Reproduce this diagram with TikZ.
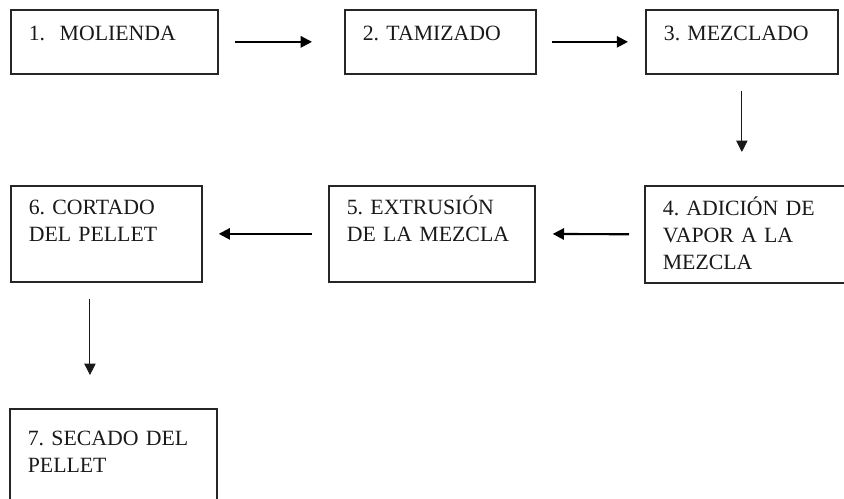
\documentclass[tikz,border=0pt]{standalone}
\usepackage{fontspec}
\setmainfont{Liberation Serif}
\usepackage{tikz}
\usetikzlibrary{arrows.meta, positioning, calc}
\frenchspacing

\begin{document}
\begin{tikzpicture}[
  x=0.025cm, y=-0.025cm,
  >={Triangle[length=8pt, width=8pt]},
  stepbox/.style={draw=black!85, line width=1.2pt, rectangle, anchor=north west, align=left,
    inner xsep=0.45cm, inner ysep=0pt, text=black!90,
    font=\fontsize{15.5}{19}\selectfont},
  flow/.style={->, line width=1.5pt, black},
  flowv/.style={->, line width=0.7pt, black!90}
]
\useasboundingbox (0,0) rectangle (844,499);
\clip (0,0) rectangle (844,499);

\node[stepbox, text width=4.275cm, text height=0.775cm, text depth=0.825cm] (Mol) at (10,9) {1.\ \ MOLIENDA};
\node[stepbox, text width=3.875cm, text height=0.775cm, text depth=0.825cm] (Tam) at (344,9) {2. TAMIZADO};
\node[stepbox, text width=3.9cm, text height=0.775cm, text depth=0.825cm] (Mez) at (645,9) {3. MEZCLADO};

\node[stepbox, text width=4.35cm, text height=0.75cm, text depth=1.675cm] (Vap) at (644,185) {4. ADICIÓN DE\\VAPOR A LA\\MEZCLA};
\node[stepbox, text width=4.25cm, text height=0.725cm, text depth=1.675cm] (Ext) at (328,185) {5. EXTRUSIÓN\\DE LA MEZCLA};
\node[stepbox, text width=3.875cm, text height=0.725cm, text depth=1.675cm] (Cor) at (10,185) {6. CORTADO\\DEL PELLET};

\node[stepbox, text width=4.275cm, text height=0.925cm, text depth=2cm] (Sec) at (9,408) {7. SECADO DEL\\PELLET};

\draw[flow, shorten <=0.4cm, shorten >=0.8cm] (Mol.east) -- (Tam.west);
\draw[flow, shorten <=0.375cm, shorten >=0.425cm] (Tam.east) -- (Mez.west);
\draw[flowv, shorten <=0.4cm, shorten >=0.825cm] (Mez.south) -- (Mez.south |- Vap.north);
\draw[flow, shorten <=0.375cm, shorten >=0.425cm] (Vap.west) -- (Ext.east);
\draw[flow, shorten <=0.4cm, shorten >=0.4cm] (Ext.west) -- (Cor.east);

% arrow to the drying step, left of centre
\draw[flowv, shorten <=0.4cm, shorten >=0.825cm] ([xshift=-0.41cm]Cor.south) -- ([xshift=-0.41cm]Cor.south |- Sec.north);
\end{tikzpicture}
\end{document}
